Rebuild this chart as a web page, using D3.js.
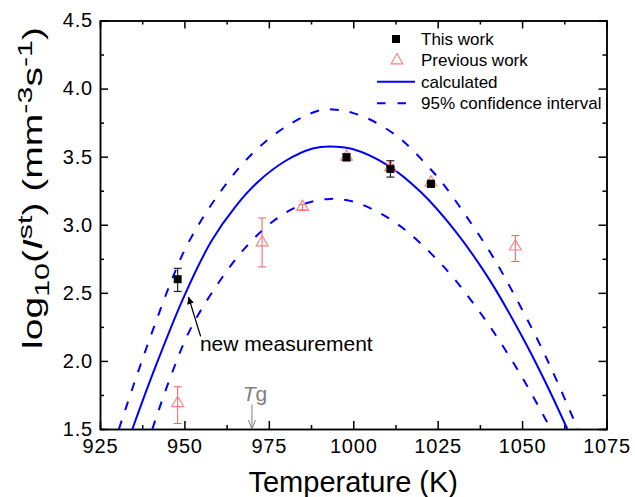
<!DOCTYPE html>
<html>
<head>
<meta charset="utf-8">
<script src="https://cdn.jsdelivr.net/npm/d3@7"></script>
<style>
body { margin: 0; background: #fff; }
text { font-family: "Liberation Sans", Arial, sans-serif; }
</style>
</head>
<body>
<div id="container"></div>
<script>
const WIDTH = 635;
const HEIGHT = 497;
const MARGIN = {top: 20.5, right: 28.5, bottom: 68, left: 100};
const INNER_WIDTH = WIDTH - MARGIN.left - MARGIN.right;
const INNER_HEIGHT = HEIGHT - MARGIN.top - MARGIN.bottom;

// this work (black squares)
const thisWorkT = [948, 998, 1011, 1023];
const thisWorkLog = [2.60, 3.495, 3.41, 3.30];
const thisWorkLow = [2.51, 3.47, 3.35, 3.28];
const thisWorkHigh = [2.68, 3.52, 3.47, 3.32];

// previous work (open triangles)
const prevT = [948, 973, 985, 998, 1011, 1023, 1048];
const prevLog = [1.69, 2.87, 3.13, 3.50, 3.42, 3.31, 2.84];
const prevLow = [1.54, 2.69, 3.11, 3.48, 3.40, 3.29, 2.73];
const prevHigh = [1.81, 3.05, 3.15, 3.52, 3.44, 3.33, 2.92];

// calculated curve and 95% band
const calcT = [934.6, 941, 950, 958, 965, 972, 980, 988, 993, 1000, 1010, 1020, 1030, 1040, 1050, 1057, 1063.4];
const calcLog = [1.5, 1.93, 2.48, 2.88, 3.13, 3.32, 3.47, 3.56, 3.575, 3.555, 3.44, 3.24, 2.96, 2.61, 2.18, 1.84, 1.5];
const upperT = [930.6, 936, 941, 946, 951, 960, 970, 980, 990, 995, 1000, 1006, 1013, 1017.5, 1021.7, 1026, 1033, 1040.5, 1045.4, 1054.3, 1060, 1066.5];
const upperLog = [1.5, 1.9, 2.25, 2.58, 2.86, 3.22, 3.52, 3.72, 3.84, 3.845, 3.82, 3.76, 3.65, 3.55, 3.44, 3.32, 3.08, 2.80, 2.59, 2.17, 1.87, 1.5];
const lowerT = [940.5, 945.7, 951.7, 960, 968, 976, 984, 993, 1000, 1006, 1011, 1016, 1023, 1030, 1040, 1050, 1058.5];
const lowerLog = [1.5, 1.87, 2.23, 2.57, 2.83, 3.02, 3.14, 3.19, 3.17, 3.11, 3.04, 2.95, 2.79, 2.60, 2.27, 1.88, 1.5];

const xTicks = [925, 950, 975, 1000, 1025, 1050, 1075];
const yTicks = [1.5, 2.0, 2.5, 3.0, 3.5, 4.0, 4.5];
const xMinor = d3.range(937.5, 1075, 25);
const yMinor = d3.range(1.75, 4.5, 0.5);

const legendLabels = ["This work", "Previous work", "calculated", "95% confidence interval"];

// annotations (data coordinates)
const tg = 970;
const tgArrow = [1.68, 1.5];
const noteText = {T: 954.6, log: 2.07, label: "new measurement"};
const noteArrow = {fromT: 954.8, fromLog: 2.18, toT: 951.2, toLog: 2.47};

const BLUE = "#0000ff";
const PINK = "#ff8080";

var translate = function (x, y) {
    return "translate(" + x + "," + y + ")";
};

var svg = d3.select("#container").append("svg")
    .attr("width", WIDTH)
    .attr("height", HEIGHT);

var defs = svg.append("defs");
defs.append("clipPath").attr("id", "plotClip")
    .append("rect").attr("width", INNER_WIDTH).attr("height", INNER_HEIGHT);
defs.append("marker").attr("id", "blackHead")
    .attr("viewBox", "0 0 10 10").attr("refX", 10).attr("refY", 5)
    .attr("markerWidth", 11).attr("markerHeight", 7).attr("markerUnits", "userSpaceOnUse")
    .attr("orient", "auto")
    .append("path").attr("d", "M0,0L10,5L0,10Z").attr("fill", "#000");

var xScale = d3.scaleLinear().domain([925, 1075]).range([0, INNER_WIDTH]);
var yScale = d3.scaleLinear().domain([1.5, 4.5]).range([INNER_HEIGHT, 0]);

var g = svg.append("g").attr("transform", translate(MARGIN.left, MARGIN.top));

// axes, ticks pointing inward
var styleAxis = function (sel) {
    sel.selectAll("path, line").attr("stroke", "#000").attr("stroke-width", 1.5);
    sel.selectAll("text").attr("font-size", 20).attr("fill", "#000")
        .attr("font-family", "Liberation Sans, Arial, sans-serif")
        .style("letter-spacing", "0.8px");
};

g.append("g").attr("transform", translate(0, INNER_HEIGHT))
    .call(d3.axisBottom(xScale).tickValues(xTicks).tickSizeInner(-8).tickSizeOuter(0).tickPadding(10).tickFormat(d3.format("d")))
    .call(styleAxis);
g.append("g").attr("transform", translate(0, INNER_HEIGHT))
    .call(d3.axisBottom(xScale).tickValues(xMinor).tickSize(-4).tickFormat(""))
    .call(styleAxis);
g.append("g")
    .call(d3.axisTop(xScale).tickValues(xTicks).tickSizeInner(-8).tickSizeOuter(0).tickFormat(""))
    .call(styleAxis);
g.append("g")
    .call(d3.axisTop(xScale).tickValues(xMinor).tickSize(-4).tickFormat(""))
    .call(styleAxis);
g.append("g")
    .call(d3.axisLeft(yScale).tickValues(yTicks).tickSizeInner(-8).tickSizeOuter(0).tickPadding(7).tickFormat(d3.format(".1f")))
    .call(styleAxis);
g.append("g")
    .call(d3.axisLeft(yScale).tickValues(yMinor).tickSize(-4).tickFormat(""))
    .call(styleAxis);
g.append("g").attr("transform", translate(INNER_WIDTH, 0))
    .call(d3.axisRight(yScale).tickValues(yTicks).tickSizeInner(-8).tickSizeOuter(0).tickFormat(""))
    .call(styleAxis);
g.append("g").attr("transform", translate(INNER_WIDTH, 0))
    .call(d3.axisRight(yScale).tickValues(yMinor).tickSize(-4).tickFormat(""))
    .call(styleAxis);

// curves
var line = d3.line()
    .x(function (d) { return xScale(d[0]); })
    .y(function (d) { return yScale(d[1]); })
    .curve(d3.curveCatmullRom.alpha(0.5));

var curves = g.append("g").attr("clip-path", "url(#plotClip)");
curves.append("path").attr("d", line(d3.zip(upperT, upperLog)))
    .attr("fill", "none").attr("stroke", BLUE).attr("stroke-width", 2).attr("stroke-dasharray", "9,11");
curves.append("path").attr("d", line(d3.zip(lowerT, lowerLog)))
    .attr("fill", "none").attr("stroke", BLUE).attr("stroke-width", 2).attr("stroke-dasharray", "9,11");
curves.append("path").attr("d", line(d3.zip(calcT, calcLog)))
    .attr("fill", "none").attr("stroke", BLUE).attr("stroke-width", 2);

// error bars
var errorBars = function (T, lo, hi, color, width) {
    var eg = g.append("g").attr("stroke", color).attr("stroke-width", width);
    T.forEach(function (t, i) {
        var x = xScale(t);
        eg.append("line").attr("x1", x).attr("x2", x).attr("y1", yScale(lo[i])).attr("y2", yScale(hi[i]));
        eg.append("line").attr("x1", x - 4).attr("x2", x + 4).attr("y1", yScale(lo[i])).attr("y2", yScale(lo[i]));
        eg.append("line").attr("x1", x - 4).attr("x2", x + 4).attr("y1", yScale(hi[i])).attr("y2", yScale(hi[i]));
    });
};

var triangle = d3.symbol().type(d3.symbolTriangle).size(62);

// previous work
errorBars(prevT, prevLow, prevHigh, "#f06060", 1);
g.selectAll(".prev").data(d3.zip(prevT, prevLog)).enter()
    .append("path")
    .attr("d", triangle)
    .attr("transform", function (d) { return translate(xScale(d[0]), yScale(d[1])); })
    .attr("fill", "none").attr("stroke", PINK).attr("stroke-width", 1.1);

// this work
errorBars(thisWorkT, thisWorkLow, thisWorkHigh, "#222", 1.2);
g.selectAll(".this").data(d3.zip(thisWorkT, thisWorkLog)).enter()
    .append("rect")
    .attr("x", function (d) { return xScale(d[0]) - 4; })
    .attr("y", function (d) { return yScale(d[1]) - 4; })
    .attr("width", 8).attr("height", 8)
    .attr("fill", "#000");

// Tg marker
var tgG = g.append("g").attr("stroke", "#808080").attr("stroke-width", 1).attr("fill", "none");
tgG.append("line").attr("x1", xScale(tg)).attr("x2", xScale(tg))
    .attr("y1", yScale(tgArrow[0])).attr("y2", yScale(tgArrow[1]));
tgG.append("path")
    .attr("d", "M" + (xScale(tg) - 3.5) + "," + (yScale(tgArrow[1]) - 9) + "L" + xScale(tg) + "," + yScale(tgArrow[1]) + "L" + (xScale(tg) + 3.5) + "," + (yScale(tgArrow[1]) - 9));
var tgText = g.append("text")
    .attr("x", xScale(tg) + 3).attr("y", yScale(tgArrow[0]) - 3.5)
    .attr("text-anchor", "middle").attr("font-size", 21).attr("fill", "#808080");
tgText.append("tspan").attr("font-style", "italic").text("T");
tgText.append("tspan").text("g");

// new measurement note
g.append("line")
    .attr("x1", xScale(noteArrow.fromT)).attr("y1", yScale(noteArrow.fromLog))
    .attr("x2", xScale(noteArrow.toT)).attr("y2", yScale(noteArrow.toLog))
    .attr("stroke", "#000").attr("stroke-width", 1.3)
    .attr("marker-end", "url(#blackHead)");
g.append("text")
    .attr("x", xScale(noteText.T)).attr("y", yScale(noteText.log))
    .attr("font-size", 21).attr("fill", "#000")
    .text(noteText.label);

// legend
var legend = svg.append("g").attr("transform", translate(377, 39));
var rowH = 21.4;
legend.append("rect").attr("x", 15).attr("y", -4).attr("width", 8).attr("height", 8).attr("fill", "#000");
legend.append("path").attr("d", triangle).attr("transform", translate(20, rowH))
    .attr("fill", "none").attr("stroke", PINK).attr("stroke-width", 1.1);
legend.append("line").attr("x1", 0).attr("x2", 38).attr("y1", rowH * 2).attr("y2", rowH * 2)
    .attr("stroke", BLUE).attr("stroke-width", 2);
legend.append("line").attr("x1", 0).attr("x2", 38).attr("y1", rowH * 3).attr("y2", rowH * 3)
    .attr("stroke", BLUE).attr("stroke-width", 2).attr("stroke-dasharray", "8.5,12");
legend.selectAll(".lab").data(legendLabels).enter()
    .append("text")
    .attr("x", 44)
    .attr("y", function (d, i) { return i * rowH + 6; })
    .attr("font-size", 17).attr("fill", "#000")
    .text(function (d) { return d; });

// axis titles
svg.append("text")
    .attr("x", MARGIN.left + INNER_WIDTH / 2).attr("y", 491.5)
    .attr("text-anchor", "middle").attr("font-size", 29).attr("fill", "#000")
    .text("Temperature (K)");

var yTitle = svg.append("text")
    .attr("transform", translate(42, 188) + " rotate(-90)")
    .attr("text-anchor", "middle").attr("font-size", 27).attr("fill", "#000")
    .attr("textLength", 322).attr("lengthAdjust", "spacingAndGlyphs");
yTitle.append("tspan").text("log");
yTitle.append("tspan").attr("font-size", 21).attr("dy", 7).text("10");
yTitle.append("tspan").attr("dy", -7).text("(");
yTitle.append("tspan").attr("font-style", "italic").text("I");
yTitle.append("tspan").attr("font-size", 21).attr("dy", -10).text("st");
yTitle.append("tspan").attr("dy", 10).text(") (mm");
yTitle.append("tspan").attr("font-size", 21).attr("dy", -10).text("-3");
yTitle.append("tspan").attr("dy", 10).text("s");
yTitle.append("tspan").attr("font-size", 21).attr("dy", -10).text("-1");
yTitle.append("tspan").attr("dy", 10).text(")");
</script>
</body>
</html>
